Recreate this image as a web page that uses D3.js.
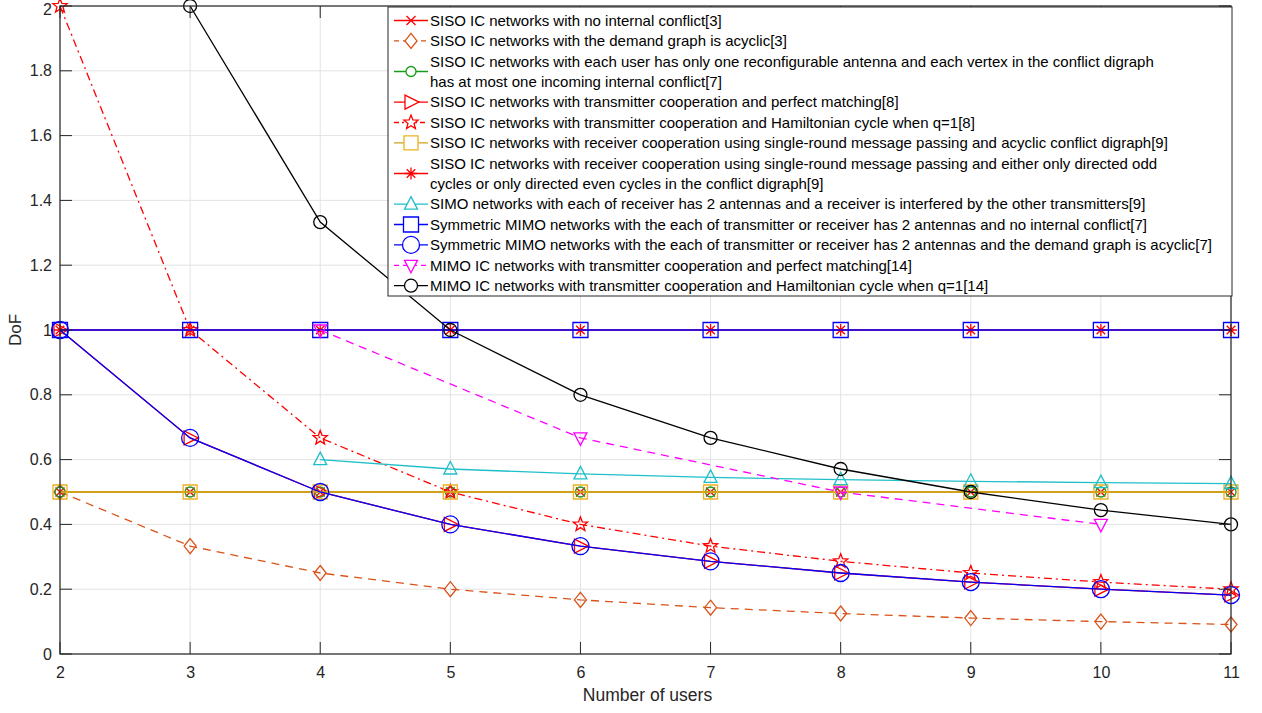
<!DOCTYPE html>
<html>
<head>
<meta charset="utf-8">
<script src="https://cdn.jsdelivr.net/npm/d3@7"></script>
<style>
  body { margin: 0; background: white; }
  text { font-family: "Liberation Sans", Arial, sans-serif; }
</style>
</head>
<body>
<div id="chart"></div>
<script>
// values
const users = [2, 3, 4, 5, 6, 7, 8, 9, 10, 11];
const noConflict = [0.5, 0.5, 0.5, 0.5, 0.5, 0.5, 0.5, 0.5, 0.5, 0.5];
const acyclic = [0.5, 0.333, 0.25, 0.2, 0.167, 0.143, 0.125, 0.111, 0.1, 0.091];
const reconfig = [0.5, 0.5, 0.5, 0.5, 0.5, 0.5, 0.5, 0.5, 0.5, 0.5];
const txPerfect = [1, 0.667, 0.5, 0.4, 0.333, 0.286, 0.25, 0.222, 0.2, 0.182];
const txHamilton = [2, 1, 0.667, 0.5, 0.4, 0.333, 0.286, 0.25, 0.222, 0.2];
const rxAcyclic = [0.5, 0.5, 0.5, 0.5, 0.5, 0.5, 0.5, 0.5, 0.5, 0.5];
const rxCycles = [1, 1, 1, 1, 1, 1, 1, 1, 1, 1];
const simoUsers = [4, 5, 6, 7, 8, 9, 10, 11];
const simo = [0.6, 0.571, 0.556, 0.545, 0.538, 0.533, 0.529, 0.526];
const mimoNoConflict = [1, 1, 1, 1, 1, 1, 1, 1, 1, 1];
const mimoAcyclic = [1, 0.667, 0.5, 0.4, 0.333, 0.286, 0.25, 0.222, 0.2, 0.182];
const mimoPerfectUsers = [4, 6, 8, 10];
const mimoPerfect = [1, 0.667, 0.5, 0.4];
const mimoHamiltonUsers = [3, 4, 5, 6, 7, 8, 9, 10, 11];
const mimoHamilton = [2, 1.333, 1, 0.8, 0.667, 0.571, 0.5, 0.444, 0.4];

const xTicks = [2, 3, 4, 5, 6, 7, 8, 9, 10, 11];
const yTicks = [0, 0.2, 0.4, 0.6, 0.8, 1, 1.2, 1.4, 1.6, 1.8, 2];

const series = [
  { name: ["SISO IC networks with no internal conflict[3]"], x: users, y: noConflict, color: "#ff0000", dash: null, marker: "x" },
  { name: ["SISO IC networks with the demand graph is acyclic[3]"], x: users, y: acyclic, color: "#D95319", dash: "8,6", marker: "diamond" },
  { name: ["SISO IC networks with each user has only one reconfigurable antenna and each vertex in the conflict digraph", "has at most one incoming internal conflict[7]"], x: users, y: reconfig, color: "#1a9a1a", dash: null, marker: "circleSmall" },
  { name: ["SISO IC networks with transmitter cooperation and perfect matching[8]"], x: users, y: txPerfect, color: "#ff0000", dash: null, marker: "triRight" },
  { name: ["SISO IC networks with transmitter cooperation and Hamiltonian cycle when q=1[8]"], x: users, y: txHamilton, color: "#ff0000", dash: "8,4,2,4", marker: "star" },
  { name: ["SISO IC networks with receiver cooperation using single-round message passing and acyclic conflict digraph[9]"], x: users, y: rxAcyclic, color: "#EDB120", lineColor: "#d0a01a", dash: null, marker: "square" },
  { name: ["SISO IC networks with receiver cooperation using single-round message passing and either only directed odd", "cycles or only directed even cycles in the conflict digraph[9]"], x: users, y: rxCycles, color: "#ff0000", dash: null, marker: "asterisk" },
  { name: ["SIMO networks with each of receiver has 2 antennas and a receiver is interfered by the other transmitters[9]"], x: simoUsers, y: simo, color: "#1fbfc9", dash: null, marker: "triUp" },
  { name: ["Symmetric MIMO networks with the each of transmitter or receiver has 2 antennas and no internal conflict[7]"], x: users, y: mimoNoConflict, color: "#0000ff", dash: null, marker: "squareBig" },
  { name: ["Symmetric MIMO networks with the each of transmitter or receiver has 2 antennas and the demand graph is acyclic[7]"], x: users, y: mimoAcyclic, color: "#0000ff", dash: null, marker: "circleBig" },
  { name: ["MIMO IC networks with transmitter cooperation and perfect matching[14]"], x: mimoPerfectUsers, y: mimoPerfect, color: "#ff00ff", dash: "8,6", marker: "triDown" },
  { name: ["MIMO IC networks with transmitter cooperation and Hamiltonian cycle when q=1[14]"], x: mimoHamiltonUsers, y: mimoHamilton, color: "#000000", dash: null, marker: "circle" },
];

const width = 1262, height = 713;
const plot = { left: 60, right: 1231, top: 6, bottom: 654 };
const axisColor = "#262626";

const svg = d3.select("#chart").append("svg")
  .attr("width", width).attr("height", height);

const x = d3.scaleLinear().domain([2, 11]).range([plot.left, plot.right]);
const y = d3.scaleLinear().domain([0, 2]).range([plot.bottom, plot.top]);

// marker path generator, centered at 0,0
function markerPath(type) {
  const p = d3.path();
  if (type === "x") {
    const s = 4.5;
    p.moveTo(-s, -s); p.lineTo(s, s); p.moveTo(-s, s); p.lineTo(s, -s);
  } else if (type === "asterisk") {
    const s = 6, d = 4.3;
    p.moveTo(-s, 0); p.lineTo(s, 0); p.moveTo(0, -s); p.lineTo(0, s);
    p.moveTo(-d, -d); p.lineTo(d, d); p.moveTo(-d, d); p.lineTo(d, -d);
  } else if (type === "diamond") {
    p.moveTo(0, -7.5); p.lineTo(6, 0); p.lineTo(0, 7.5); p.lineTo(-6, 0); p.closePath();
  } else if (type === "square" || type === "squareBig") {
    const s = type === "square" ? 7 : 7.5;
    p.rect(-s, -s, 2 * s, 2 * s);
  } else if (type === "triRight") {
    p.moveTo(-6, -7); p.lineTo(8, 0); p.lineTo(-6, 7); p.closePath();
  } else if (type === "triUp") {
    p.moveTo(0, -7.5); p.lineTo(6.5, 5); p.lineTo(-6.5, 5); p.closePath();
  } else if (type === "triDown") {
    p.moveTo(0, 7.5); p.lineTo(6.5, -5); p.lineTo(-6.5, -5); p.closePath();
  } else if (type === "star") {
    const ro = 7.5, ri = 3.2;
    for (let i = 0; i < 10; i++) {
      const r = i % 2 === 0 ? ro : ri;
      const a = -Math.PI / 2 + i * Math.PI / 5;
      if (i === 0) p.moveTo(r * Math.cos(a), r * Math.sin(a));
      else p.lineTo(r * Math.cos(a), r * Math.sin(a));
    }
    p.closePath();
  } else {
    const r = type === "circleBig" ? 8.5 : type === "circleSmall" ? 5 : 6.5;
    p.moveTo(r, 0); p.arc(0, 0, r, 0, 2 * Math.PI);
  }
  return p.toString();
}

// grid
svg.append("g").selectAll("line").data(xTicks).join("line")
  .attr("x1", d => x(d)).attr("x2", d => x(d))
  .attr("y1", plot.top).attr("y2", plot.bottom)
  .attr("stroke", "#e3e3e3").attr("stroke-width", 1);
svg.append("g").selectAll("line").data(yTicks).join("line")
  .attr("x1", plot.left).attr("x2", plot.right)
  .attr("y1", d => y(d)).attr("y2", d => y(d))
  .attr("stroke", "#e3e3e3").attr("stroke-width", 1);

// series
const line = d3.line().x(d => x(d[0])).y(d => y(d[1]));

const plotG = svg.append("g");
series.forEach(s => {
  const pts = s.x.map((v, i) => [v, s.y[i]]);
  const g = plotG.append("g");
  g.append("path").datum(pts)
    .attr("d", line)
    .attr("fill", "none")
    .attr("stroke", s.lineColor || s.color)
    .attr("stroke-width", s.lineColor ? 2.2 : 1.3)
    .attr("stroke-dasharray", s.dash);
  g.selectAll("path.m").data(pts).join("path")
    .attr("class", "m")
    .attr("transform", d => `translate(${x(d[0])},${y(d[1])})`)
    .attr("d", markerPath(s.marker))
    .attr("fill", "none")
    .attr("stroke", s.color)
    .attr("stroke-width", 1.3);
});

// axes frame
const axes = svg.append("g").attr("color", axisColor);
const axisBottom = d3.axisBottom(x).tickValues(xTicks).tickSize(0).tickPadding(13);
const axisLeft = d3.axisLeft(y).tickValues(yTicks).tickSize(0).tickPadding(8)
  .tickFormat(d => d3.format("~g")(d));

axes.append("g").attr("transform", `translate(0,${plot.bottom})`).call(axisBottom)
  .call(g => g.select(".domain").remove())
  .selectAll("text").attr("font-size", 16).attr("fill", axisColor)
  .attr("font-family", "Liberation Sans, Arial, sans-serif");
axes.append("g").attr("transform", `translate(${plot.left},0)`).call(axisLeft)
  .call(g => g.select(".domain").remove())
  .selectAll("text").attr("font-size", 16).attr("fill", axisColor)
  .attr("font-family", "Liberation Sans, Arial, sans-serif")
  .attr("dy", d => d === 2 ? "0.55em" : "0.32em");

const tickLen = 12;
const ticks = svg.append("g").attr("stroke", axisColor).attr("stroke-width", 1);
xTicks.forEach(t => {
  ticks.append("line").attr("x1", x(t)).attr("x2", x(t)).attr("y1", plot.bottom).attr("y2", plot.bottom - tickLen);
  ticks.append("line").attr("x1", x(t)).attr("x2", x(t)).attr("y1", plot.top).attr("y2", plot.top + tickLen);
});
yTicks.forEach(t => {
  ticks.append("line").attr("x1", plot.left).attr("x2", plot.left + tickLen).attr("y1", y(t)).attr("y2", y(t));
  ticks.append("line").attr("x1", plot.right).attr("x2", plot.right - tickLen).attr("y1", y(t)).attr("y2", y(t));
});
svg.append("rect")
  .attr("x", plot.left).attr("y", plot.top)
  .attr("width", plot.right - plot.left).attr("height", plot.bottom - plot.top)
  .attr("fill", "none").attr("stroke", axisColor).attr("stroke-width", 1.2);

// axis labels
svg.append("text")
  .attr("x", (plot.left + plot.right) / 2 + 2).attr("y", 701)
  .attr("text-anchor", "middle").attr("font-size", 17.5).attr("fill", axisColor)
  .text("Number of users");
svg.append("text")
  .attr("transform", `translate(21,${(plot.top + plot.bottom) / 2}) rotate(-90)`)
  .attr("text-anchor", "middle").attr("font-size", 17).attr("fill", axisColor)
  .text("DoF");

// legend
const legend = { x: 388, y: 7, w: 844, h: 289 };
const lg = svg.append("g");
lg.append("rect")
  .attr("x", legend.x).attr("y", legend.y).attr("width", legend.w).attr("height", legend.h)
  .attr("fill", "white").attr("stroke", axisColor).attr("stroke-width", 1);

const rowH = 20.4;
let row = 0;
series.forEach(s => {
  const n = s.name.length;
  const cy = legend.y + 13.5 + rowH * (row + (n - 1) / 2);
  const g = lg.append("g");
  g.append("line")
    .attr("x1", legend.x + 6).attr("x2", legend.x + 40)
    .attr("y1", cy).attr("y2", cy)
    .attr("stroke", s.lineColor || s.color).attr("stroke-width", 1.3)
    .attr("stroke-dasharray", s.dash ? (s.dash === "8,6" ? "5,4" : "5,3,2,3") : null);
  g.append("path")
    .attr("transform", `translate(${legend.x + 23},${cy})`)
    .attr("d", markerPath(s.marker))
    .attr("fill", "white").attr("stroke", s.color).attr("stroke-width", 1.3);
  s.name.forEach((t, i) => {
    g.append("text")
      .attr("x", legend.x + 42).attr("y", legend.y + 13.5 + rowH * (row + i))
      .attr("dy", "0.35em").attr("font-size", 15).attr("fill", "#000")
      .text(t);
  });
  row += n;
});
</script>
</body>
</html>
